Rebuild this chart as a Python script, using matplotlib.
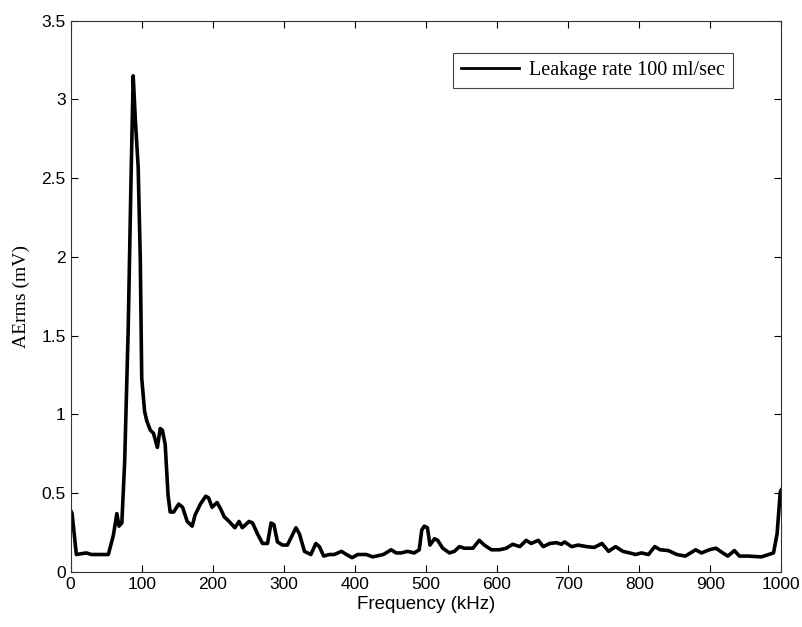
import matplotlib
matplotlib.use("Agg")
import matplotlib.pyplot as plt

# values
freq_khz = [0, 2, 8, 22, 29, 53, 60, 65, 68, 72, 76, 81, 85, 88, 91, 95, 98,
            100, 104, 107, 112, 116.5, 122, 126, 129, 133, 137, 140, 145, 152,
            157.5, 164, 171, 175, 182.5, 190, 194, 199, 206, 211, 216, 223,
            231, 237, 241.5, 251, 256, 263, 270, 277, 282, 286, 291, 298, 305,
            317, 322, 329, 338, 345, 350, 356, 364, 371, 381, 388, 396, 404,
            416, 425, 440, 451, 458, 465, 474, 483.5, 490.5, 494, 497.6, 502,
            505.6, 512, 516.5, 523.5, 533, 540, 547, 554, 566, 575, 582, 592,
            603.5, 613, 622, 632, 641, 648, 658, 665, 674, 683.5, 690.5, 695,
            705, 714, 726, 736.7, 747.6, 757, 766.7, 777, 786.7, 795, 803, 813,
            822, 829.5, 841, 853, 865, 879.5, 887.6, 898.6, 908, 917.6, 924.8,
            934, 941, 953, 972, 989, 994, 998.6, 1000]
aerms_mv = [0.39, 0.37, 0.11, 0.12, 0.11, 0.11, 0.23, 0.37, 0.29, 0.31, 0.70,
            1.55, 2.51, 3.15, 2.87, 2.57, 1.98, 1.23, 1.02, 0.96, 0.90, 0.88,
            0.79, 0.91, 0.90, 0.81, 0.49, 0.38, 0.38, 0.43, 0.41, 0.32, 0.29,
            0.36, 0.43, 0.48, 0.47, 0.41, 0.44, 0.40, 0.35, 0.32, 0.28, 0.32,
            0.28, 0.32, 0.31, 0.24, 0.18, 0.18, 0.31, 0.30, 0.19, 0.17, 0.17,
            0.28, 0.24, 0.13, 0.11, 0.18, 0.16, 0.10, 0.11, 0.11, 0.13, 0.11,
            0.09, 0.11, 0.11, 0.095, 0.11, 0.14, 0.12, 0.12, 0.13, 0.12, 0.14,
            0.265, 0.29, 0.28, 0.17, 0.21, 0.20, 0.15, 0.12, 0.13, 0.16, 0.15,
            0.15, 0.20, 0.17, 0.14, 0.14, 0.15, 0.175, 0.16, 0.20, 0.18, 0.20,
            0.16, 0.18, 0.185, 0.175, 0.19, 0.16, 0.17, 0.16, 0.155, 0.18,
            0.13, 0.16, 0.13, 0.12, 0.11, 0.12, 0.11, 0.16, 0.14, 0.135, 0.11,
            0.10, 0.14, 0.12, 0.14, 0.15, 0.12, 0.10, 0.135, 0.10, 0.10, 0.095,
            0.12, 0.24, 0.51, 0.52]
x_ticks = [0, 100, 200, 300, 400, 500, 600, 700, 800, 900, 1000]
y_ticks = [0, 0.5, 1, 1.5, 2, 2.5, 3, 3.5]
y_tick_labels = ["0", "0.5", "1", "1.5", "2", "2.5", "3", "3.5"]

fig = plt.figure(figsize=(8.03, 6.27), dpi=100)
ax = fig.add_axes([0.088, 0.088, 0.885, 0.879])

ax.plot(freq_khz, aerms_mv, color="black", linewidth=2.6,
        label="Leakage rate 100 ml/sec")

ax.set_xlim(0, 1000)
ax.set_ylim(0, 3.5)
ax.set_xticks(x_ticks)
ax.set_yticks(y_ticks)
ax.set_yticklabels(y_tick_labels)
ax.tick_params(direction="in", length=5, width=0.8, labelsize=12.5,
               top=True, right=True)
for lab in ax.get_xticklabels() + ax.get_yticklabels():
    lab.set_family("Liberation Sans")
for sp in ax.spines.values():
    sp.set_linewidth(0.8)
    sp.set_color("#333333")

ax.set_xlabel("Frequency (kHz)", family="Liberation Sans", fontsize=13.5,
              labelpad=3)
ax.set_ylabel("AErms (mV)", family="Liberation Serif", fontsize=14,
              labelpad=8)

leg = ax.legend(loc="upper right", bbox_to_anchor=(0.932, 0.942),
                borderaxespad=0,
                prop={"family": "Liberation Serif", "size": 14.5},
                fancybox=False, framealpha=1, edgecolor="#444444",
                handlelength=2.9, borderpad=0.4, handletextpad=0.5)
leg.get_frame().set_linewidth(0.8)
for line in leg.get_lines():
    line.set_linewidth(2.0)

fig.savefig("out.png", dpi=100)
